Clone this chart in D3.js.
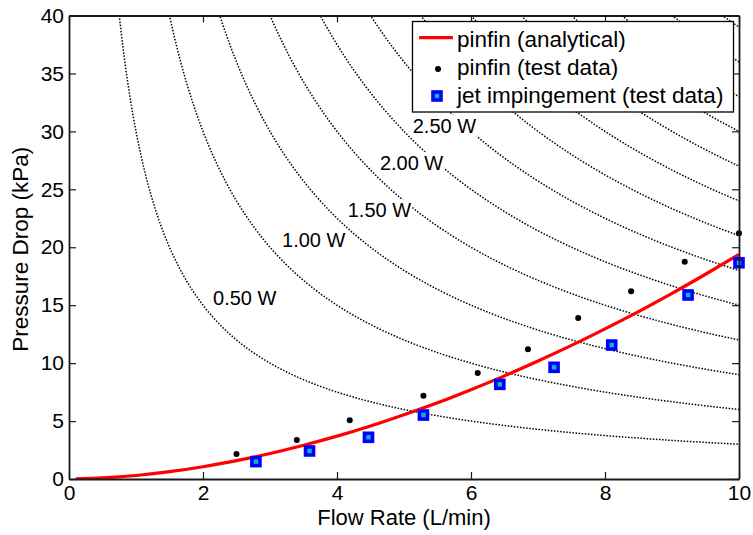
<!DOCTYPE html>
<html>
<head>
<meta charset="utf-8">
<script src="https://cdn.jsdelivr.net/npm/d3@7"></script>
<style>
  body { margin: 0; background: #fff; }
  svg { display: block; font-family: "Liberation Sans", Arial, sans-serif; }
</style>
</head>
<body>
<svg id="chart" width="753" height="535"></svg>
<script>
// ---------------- data ----------------
const xTicks = [0, 2, 4, 6, 8, 10];
const yTicks = [0, 5, 10, 15, 20, 25, 30, 35, 40];

// pinfin analytical curve
const analyticalQ  = [0.1, 0.5, 1, 1.5, 2, 2.5, 3, 3.5, 4, 4.5, 5, 5.5, 6, 6.5, 7, 7.5, 8, 8.5, 9, 9.5, 10];
const analyticalDP = [0.005, 0.09, 0.30, 0.63, 1.06, 1.59, 2.20, 2.91, 3.70, 4.58, 5.55, 6.58, 7.71, 8.90, 10.18, 11.53, 12.96, 14.45, 16.02, 17.67, 19.38];

// pinfin test data
const pinfinQ  = [2.50, 3.40, 4.19, 5.29, 6.10, 6.85, 7.60, 8.39, 9.19, 10.0];
const pinfinDP = [2.16, 3.36, 5.06, 7.19, 9.15, 11.2, 13.9, 16.2, 18.75, 21.2];

// jet impingement test data
const jetQ  = [2.79, 3.59, 4.47, 5.29, 6.43, 7.24, 8.10, 9.24, 10.0];
const jetDP = [1.50, 2.42, 3.60, 5.52, 8.17, 9.64, 11.56, 15.88, 18.66];

// iso-pumping-power lines (W); dP[kPa] * Q[L/min] / 60 = P[W]
const powerLevels = [0.5, 1.0, 1.5, 2.0, 2.5, 3.0, 3.5, 4.0, 4.5, 5.0, 5.5, 6.0, 6.5];
const kPaLpmPerWatt = 60;
const powerLabelText = ["0.50 W", "1.00 W", "1.50 W", "2.00 W", "2.50 W"];
const powerLabelQ    = [2.15, 3.18, 4.16, 4.64, 5.13];
const powerLabelDP   = [15.6, 20.6, 23.2, 27.3, 30.5];

const legendLabels = ["pinfin (analytical)", "pinfin (test data)", "jet impingement (test data)"];

// ---------------- layout ----------------
const svg = d3.select("#chart");
const L = 69, R = 739, T = 15.5, B = 479;
const x = d3.scaleLinear().domain([0, 10]).range([L, R]);
const y = d3.scaleLinear().domain([0, 40]).range([B, T]);

svg.append("rect").attr("width", 753).attr("height", 535).attr("fill", "#fff");

svg.append("defs").append("clipPath").attr("id", "clip")
  .append("rect").attr("x", L).attr("y", T).attr("width", R - L).attr("height", B - T);

const plot = svg.append("g").attr("clip-path", "url(#clip)");

// iso-power curves
const line = d3.line().x(d => x(d[0])).y(d => y(d[1]));
powerLevels.forEach(p => {
  const c = p * kPaLpmPerWatt;
  const q0 = c / 44;
  const pts = d3.range(q0, 10.0001, 0.02).map(q => [q, c / q]);
  pts.push([10, c / 10]);
  plot.append("path")
    .attr("d", line(pts))
    .attr("fill", "none")
    .attr("stroke", "#000")
    .attr("stroke-width", 1.5)
    .attr("stroke-dasharray", "1.5,1.6");
});

// curve labels with white background
powerLabelText.forEach((t, i) => {
  const g = plot.append("g");
  const txt = g.append("text")
    .attr("x", x(powerLabelQ[i]))
    .attr("y", y(powerLabelDP[i]))
    .attr("dy", "0.36em")
    .attr("font-size", 20)
    .attr("fill", "#000")
    .text(t);
  const bb = txt.node().getBBox();
  g.insert("rect", "text")
    .attr("x", bb.x - 1).attr("y", bb.y)
    .attr("width", bb.width + 2).attr("height", bb.height)
    .attr("fill", "#fff");
});

// analytical curve
const aPts = analyticalQ.map((q, i) => [q, analyticalDP[i]]);
plot.append("path")
  .attr("d", d3.line().x(d => x(d[0])).y(d => y(d[1])).curve(d3.curveMonotoneX)(aPts))
  .attr("fill", "none")
  .attr("stroke", "#ff0000")
  .attr("stroke-width", 3.2);

// pinfin test points
svg.append("g").selectAll("circle")
  .data(pinfinQ.map((q, i) => [q, pinfinDP[i]]))
  .join("circle")
  .attr("cx", d => x(d[0])).attr("cy", d => y(d[1]))
  .attr("r", 3).attr("fill", "#000");

// jet impingement points
const sq = 8;
svg.append("g").selectAll("rect")
  .data(jetQ.map((q, i) => [q, jetDP[i]]))
  .join("rect")
  .attr("x", d => x(d[0]) - sq / 2).attr("y", d => y(d[1]) - sq / 2)
  .attr("width", sq).attr("height", sq)
  .attr("fill", "#00bfbf").attr("stroke", "#0000ff").attr("stroke-width", 3.6);

// ---------------- axes ----------------
const fs = 21;
const axStroke = "#1a1a1a";
const gx = svg.append("g").attr("transform", `translate(0,${B})`)
  .call(d3.axisBottom(x).tickValues(xTicks).tickFormat(d3.format("d")).tickSize(-7).tickSizeOuter(0).tickPadding(6));
const gy = svg.append("g").attr("transform", `translate(${L},0)`)
  .call(d3.axisLeft(y).tickValues(yTicks).tickFormat(d3.format("d")).tickSize(-7).tickSizeOuter(0).tickPadding(5));
const gt = svg.append("g").attr("transform", `translate(0,${T})`)
  .call(d3.axisTop(x).tickValues(xTicks).tickFormat("").tickSize(-7).tickSizeOuter(0));
const gr = svg.append("g").attr("transform", `translate(${R},0)`)
  .call(d3.axisRight(y).tickValues(yTicks).tickFormat("").tickSize(-7).tickSizeOuter(0));
[gx, gy, gt, gr].forEach(g => {
  g.attr("font-family", null);
  g.selectAll("path.domain").attr("stroke", axStroke).attr("stroke-width", 1.8);
  g.selectAll(".tick line").attr("stroke", axStroke).attr("stroke-width", 1.2);
  g.selectAll(".tick text").attr("font-size", fs).attr("fill", "#000");
});

// axis titles
svg.append("text")
  .attr("x", (L + R) / 2).attr("y", 524.5)
  .attr("text-anchor", "middle").attr("font-size", 22).attr("fill", "#000")
  .text("Flow Rate (L/min)");
svg.append("text")
  .attr("transform", `translate(28,${(T + B) / 2 + 2}) rotate(-90)`)
  .attr("text-anchor", "middle").attr("font-size", 22.5).attr("fill", "#000")
  .text("Pressure Drop (kPa)");

// ---------------- legend ----------------
const lg = svg.append("g");
lg.append("rect")
  .attr("x", 412.5).attr("y", 21.5).attr("width", 321).attr("height", 90.5)
  .attr("fill", "#fff").attr("stroke", "#000").attr("stroke-width", 1.3);
const rowBase = [46.7, 75, 103.3];
lg.append("line").attr("x1", 419).attr("x2", 453).attr("y1", 37.7).attr("y2", 37.7)
  .attr("stroke", "#ff0000").attr("stroke-width", 3.2);
lg.append("circle").attr("cx", 438).attr("cy", 69).attr("r", 3).attr("fill", "#000");
lg.append("rect").attr("x", 437 - sq / 2).attr("y", 96 - sq / 2).attr("width", sq).attr("height", sq)
  .attr("fill", "#00bfbf").attr("stroke", "#0000ff").attr("stroke-width", 3.6);
legendLabels.forEach((t, i) => {
  lg.append("text").attr("x", 457).attr("y", rowBase[i])
    .attr("font-size", 22.5).attr("fill", "#000").text(t);
});
</script>
</body>
</html>
